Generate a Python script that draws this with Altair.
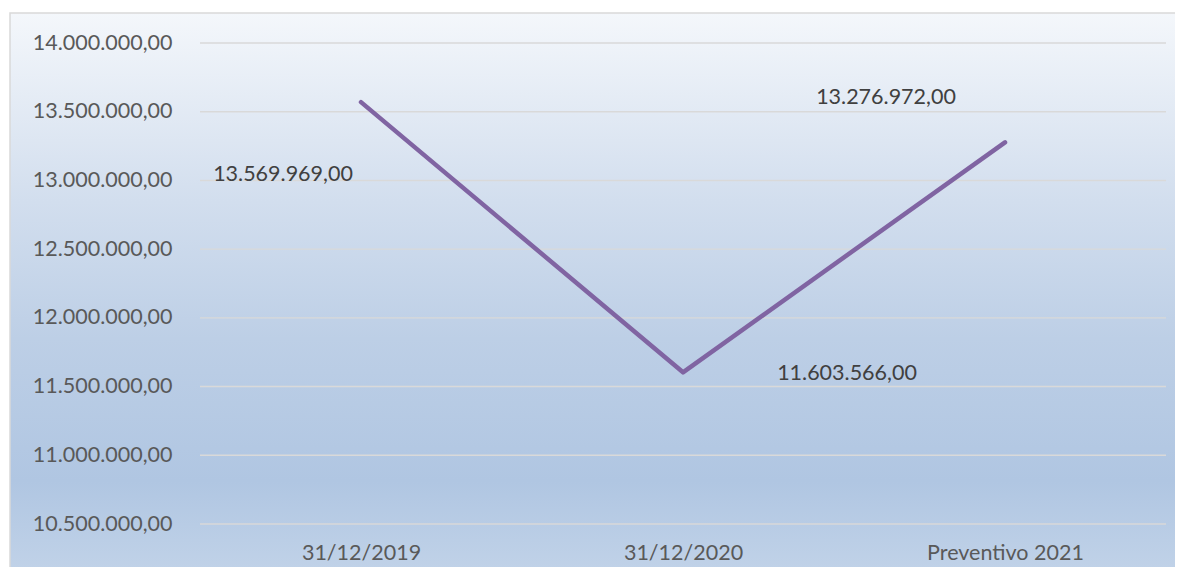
import altair as alt
import pandas as pd

categories = ["31/12/2019", "31/12/2020", "Preventivo 2021"]
values = [13569969, 11603566, 13276972]
y_ticks = [10500000, 11000000, 11500000, 12000000, 12500000, 13000000, 13500000, 14000000]

df = pd.DataFrame({"cat": categories, "val": values})
grid_df = pd.DataFrame({"cat": [categories[0]] * len(y_ticks), "val": y_ticks})

FONT = "Lato"
FS = 21.5
W, H = 966, 481

it_fmt = ("replace(replace(replace(format({v}, ',.2f'), regexp(',', 'g'), '#'), '.', ','), "
          "regexp('#', 'g'), '.')")

x_scale = alt.Scale(type="point", padding=0.5)
x_axis = alt.Axis(title=None, labelAngle=0, domain=False, ticks=False, grid=False,
                  labelFont=FONT, labelFontSize=FS, labelColor="#595959",
                  labelPadding=18, zindex=1)
y_scale = alt.Scale(domain=[10500000, 14000000], nice=False, zero=False)
y_axis = alt.Axis(title=None, values=y_ticks, domain=False, ticks=False, grid=False,
                  labelFont=FONT, labelFontSize=FS, labelColor="#595959",
                  labelPadding=28, zindex=1,
                  labelExpr=it_fmt.format(v="datum.value"))
x_enc = alt.X("cat:N", sort=categories, scale=x_scale, axis=x_axis)
y_enc = alt.Y("val:Q", scale=y_scale, axis=y_axis)

gradient = alt.LinearGradient(
    gradient="linear", x1=0, x2=0, y1=0, y2=1,
    stops=[
        alt.GradientStop(color="#F4F7FB", offset=0),
        alt.GradientStop(color="#D2DEEE", offset=0.33),
        alt.GradientStop(color="#BDCFE6", offset=0.57),
        alt.GradientStop(color="#B0C6E2", offset=0.82),
        alt.GradientStop(color="#C3D4E9", offset=1),
    ],
)

bg = alt.Chart(alt.Data(values=[{}])).mark_rect(
    fill=gradient, stroke="#D9D9D9", strokeWidth=1.5
).encode(
    x=alt.value(-190), x2=alt.value(W + 30),
    y=alt.value(-30), y2=alt.value(H + 60),
)

grid = alt.Chart(grid_df).mark_rule(color="#D9D9D9", strokeWidth=1.4).encode(
    y=y_enc
)

line = alt.Chart(df).mark_line(
    color="#8064A2", strokeWidth=4.5, strokeCap="round", strokeJoin="round"
).encode(x=x_enc, y=y_enc)

layers = [bg, grid, line]
offsets = {"31/12/2019": (-78, 73), "31/12/2020": (164, 2), "Preventivo 2021": (-119, -44)}
for cat in categories:
    dx, dy = offsets[cat]
    t = alt.Chart(df).transform_filter(
        alt.datum.cat == cat
    ).transform_calculate(
        lab=it_fmt.format(v="datum.val")
    ).mark_text(
        font=FONT, fontSize=FS, color="#404040", dx=dx, dy=dy,
        align="center", baseline="middle"
    ).encode(x=x_enc, y=y_enc, text="lab:N")
    layers.append(t)

chart = alt.layer(*layers).properties(
    width=W, height=H,
    autosize=alt.AutoSizeParams(type="none"),
    padding={"left": 192, "top": 35, "right": 9, "bottom": 43},
    background="white",
).configure_view(stroke=None)

chart.save("out.html", embed_options={"renderer": "svg", "actions": False})
